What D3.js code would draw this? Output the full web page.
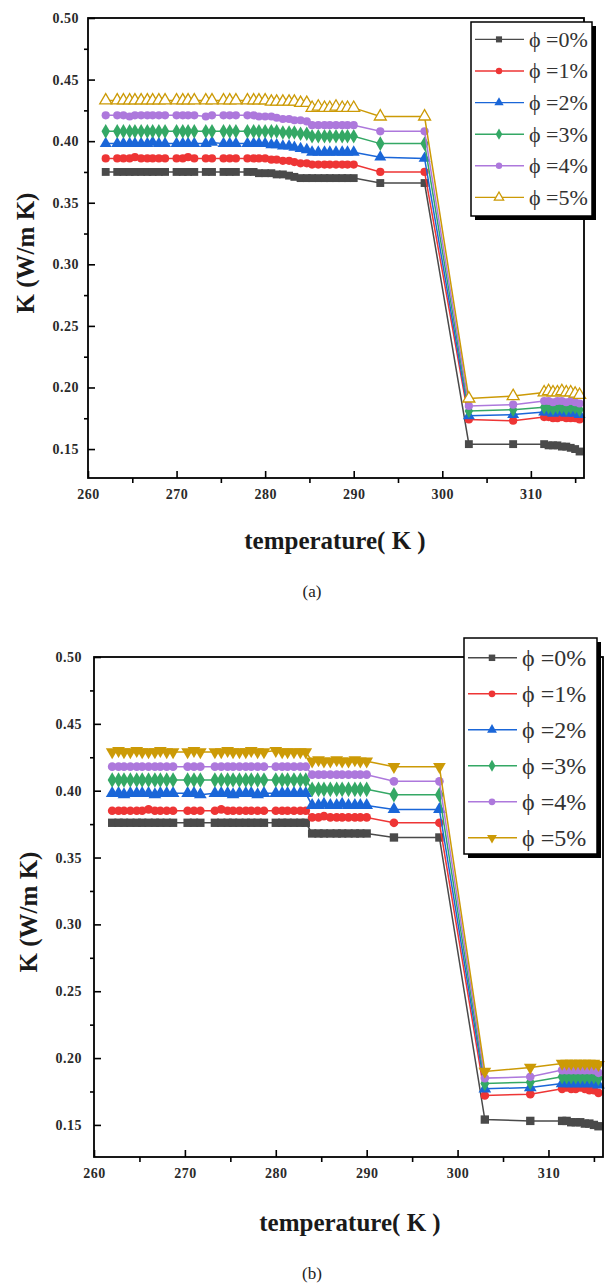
<!DOCTYPE html>
<html>
<head>
<meta charset="utf-8">
<script src="https://cdnjs.cloudflare.com/ajax/libs/d3/7.8.5/d3.min.js"></script>
<style>
  body { margin: 0; background: #fff; }
  svg, svg text { font-family: 'Times New Roman', 'Liberation Serif', 'DejaVu Serif', serif; }
</style>
</head>
<body>
<script>
// legend labels and axis ticks
const seriesNames = ['ϕ =0%', 'ϕ =1%', 'ϕ =2%', 'ϕ =3%', 'ϕ =4%', 'ϕ =5%'];
const xTicks = [260, 270, 280, 290, 300, 310];
const xMinor = [265, 275, 285, 295, 305, 315];
const yTicks = [0.15, 0.20, 0.25, 0.30, 0.35, 0.40, 0.45, 0.50];
const yMinor = [0.175, 0.225, 0.275, 0.325, 0.375, 0.425, 0.475];

// panel (a): temperature (K)
const tempA = [
  262, 263.3, 264, 264.7, 265.3, 266, 266.7, 267.3, 268, 268.7,
  270, 270.7, 271.3, 272, 273.3, 274, 275.3, 276, 276.7, 278,
  278.7, 279.3, 280, 280.7, 281.3, 282, 282.7, 283.3, 284, 284.7,
  285.3, 286, 286.7, 287.3, 288, 288.7, 289.3, 290, 293, 298,
  303, 308, 311.5, 312, 312.5, 313, 313.5, 314, 314.5, 315,
  315.5
];
// panel (a): K (W/m K) per concentration
const kA0 = [
  0.375, 0.375, 0.375, 0.375, 0.375, 0.375, 0.375, 0.375, 0.375, 0.375,
  0.375, 0.375, 0.375, 0.375, 0.375, 0.375, 0.375, 0.375, 0.375, 0.375,
  0.375, 0.374, 0.374, 0.374, 0.373, 0.373, 0.372, 0.371, 0.370, 0.370,
  0.370, 0.370, 0.370, 0.370, 0.370, 0.370, 0.370, 0.370, 0.366, 0.366,
  0.154, 0.154, 0.154, 0.153, 0.153, 0.153, 0.152, 0.152, 0.151, 0.150,
  0.148
];
const kA1 = [
  0.386, 0.386, 0.386, 0.386, 0.387, 0.386, 0.386, 0.386, 0.386, 0.386,
  0.386, 0.386, 0.387, 0.386, 0.386, 0.386, 0.386, 0.386, 0.386, 0.386,
  0.386, 0.386, 0.386, 0.385, 0.385, 0.384, 0.384, 0.383, 0.382, 0.382,
  0.381, 0.381, 0.381, 0.381, 0.381, 0.381, 0.381, 0.381, 0.375, 0.375,
  0.174, 0.173, 0.176, 0.176, 0.175, 0.175, 0.176, 0.175, 0.175, 0.175,
  0.174
];
const kA2 = [
  0.398, 0.398, 0.398, 0.398, 0.398, 0.398, 0.398, 0.399, 0.398, 0.398,
  0.398, 0.398, 0.398, 0.398, 0.398, 0.399, 0.398, 0.398, 0.398, 0.398,
  0.398, 0.398, 0.398, 0.397, 0.397, 0.396, 0.396, 0.395, 0.394, 0.393,
  0.391, 0.391, 0.391, 0.391, 0.391, 0.391, 0.391, 0.391, 0.387, 0.386,
  0.177, 0.178, 0.180, 0.180, 0.179, 0.180, 0.180, 0.179, 0.180, 0.179,
  0.178
];
const kA3 = [
  0.408, 0.408, 0.408, 0.408, 0.408, 0.408, 0.408, 0.408, 0.408, 0.408,
  0.408, 0.408, 0.408, 0.408, 0.408, 0.408, 0.408, 0.408, 0.408, 0.408,
  0.408, 0.408, 0.408, 0.408, 0.408, 0.407, 0.407, 0.407, 0.406, 0.406,
  0.404, 0.404, 0.404, 0.404, 0.404, 0.404, 0.404, 0.404, 0.398, 0.398,
  0.181, 0.182, 0.184, 0.184, 0.183, 0.184, 0.184, 0.183, 0.184, 0.184,
  0.182
];
const kA4 = [
  0.421, 0.421, 0.421, 0.420, 0.421, 0.421, 0.421, 0.421, 0.421, 0.421,
  0.421, 0.421, 0.421, 0.421, 0.420, 0.421, 0.421, 0.421, 0.421, 0.421,
  0.421, 0.420, 0.420, 0.420, 0.419, 0.418, 0.418, 0.417, 0.417, 0.416,
  0.413, 0.413, 0.413, 0.413, 0.413, 0.413, 0.413, 0.413, 0.408, 0.408,
  0.185, 0.186, 0.189, 0.189, 0.188, 0.189, 0.189, 0.188, 0.189, 0.188,
  0.187
];
const kA5 = [
  0.433, 0.433, 0.433, 0.433, 0.433, 0.433, 0.433, 0.433, 0.433, 0.433,
  0.433, 0.433, 0.433, 0.433, 0.433, 0.433, 0.433, 0.433, 0.433, 0.433,
  0.433, 0.433, 0.433, 0.432, 0.432, 0.432, 0.432, 0.432, 0.431, 0.431,
  0.427, 0.428, 0.427, 0.427, 0.428, 0.427, 0.427, 0.427, 0.420, 0.420,
  0.191, 0.193, 0.196, 0.197, 0.196, 0.196, 0.197, 0.196, 0.196, 0.195,
  0.194
];

// panel (b): temperature (K)
const tempB = [
  262, 262.7, 263.3, 264, 264.7, 265.3, 266, 266.7, 267.3, 268,
  268.7, 270.3, 271, 271.7, 273.3, 274, 274.7, 275.3, 276, 276.7,
  277.3, 278, 278.7, 280, 280.7, 281.3, 282, 282.7, 283.3, 284,
  284.7, 285.3, 286, 286.7, 287.3, 288, 288.7, 289.3, 290, 293,
  298, 303, 308, 311.5, 312, 312.5, 313, 313.5, 314, 314.5,
  315, 315.5
];
// panel (b): K (W/m K) per concentration
const kB0 = [
  0.376, 0.376, 0.376, 0.376, 0.376, 0.376, 0.376, 0.376, 0.376, 0.376,
  0.376, 0.376, 0.376, 0.376, 0.376, 0.376, 0.376, 0.376, 0.376, 0.376,
  0.376, 0.376, 0.376, 0.376, 0.376, 0.376, 0.376, 0.376, 0.376, 0.368,
  0.368, 0.368, 0.368, 0.368, 0.368, 0.368, 0.368, 0.368, 0.368, 0.365,
  0.365, 0.154, 0.153, 0.153, 0.153, 0.152, 0.152, 0.152, 0.151, 0.151,
  0.150, 0.149
];
const kB1 = [
  0.385, 0.385, 0.385, 0.385, 0.385, 0.385, 0.386, 0.385, 0.385, 0.385,
  0.385, 0.385, 0.385, 0.385, 0.385, 0.386, 0.385, 0.385, 0.385, 0.385,
  0.385, 0.385, 0.385, 0.385, 0.385, 0.385, 0.385, 0.385, 0.385, 0.380,
  0.380, 0.381, 0.380, 0.380, 0.380, 0.380, 0.380, 0.380, 0.380, 0.376,
  0.376, 0.172, 0.173, 0.177, 0.178, 0.177, 0.177, 0.178, 0.177, 0.176,
  0.176, 0.174
];
const kB2 = [
  0.398, 0.398, 0.397, 0.398, 0.398, 0.398, 0.398, 0.397, 0.398, 0.398,
  0.398, 0.398, 0.398, 0.397, 0.398, 0.398, 0.398, 0.397, 0.398, 0.398,
  0.398, 0.397, 0.398, 0.398, 0.398, 0.398, 0.398, 0.398, 0.398, 0.389,
  0.389, 0.390, 0.389, 0.389, 0.390, 0.389, 0.389, 0.389, 0.389, 0.386,
  0.386, 0.177, 0.178, 0.181, 0.181, 0.181, 0.181, 0.181, 0.181, 0.181,
  0.181, 0.180
];
const kB3 = [
  0.408, 0.408, 0.408, 0.408, 0.408, 0.408, 0.408, 0.408, 0.408, 0.408,
  0.408, 0.408, 0.408, 0.408, 0.408, 0.408, 0.408, 0.408, 0.408, 0.408,
  0.408, 0.408, 0.408, 0.408, 0.408, 0.408, 0.408, 0.408, 0.408, 0.401,
  0.401, 0.401, 0.401, 0.401, 0.401, 0.401, 0.401, 0.401, 0.401, 0.397,
  0.397, 0.181, 0.182, 0.186, 0.186, 0.186, 0.186, 0.186, 0.186, 0.186,
  0.186, 0.185
];
const kB4 = [
  0.418, 0.418, 0.418, 0.418, 0.418, 0.418, 0.418, 0.418, 0.418, 0.418,
  0.418, 0.418, 0.418, 0.418, 0.418, 0.418, 0.418, 0.418, 0.418, 0.418,
  0.418, 0.418, 0.418, 0.418, 0.418, 0.418, 0.418, 0.418, 0.418, 0.412,
  0.412, 0.412, 0.412, 0.412, 0.412, 0.412, 0.412, 0.412, 0.412, 0.407,
  0.407, 0.185, 0.186, 0.191, 0.191, 0.191, 0.191, 0.191, 0.191, 0.191,
  0.191, 0.189
];
const kB5 = [
  0.429, 0.430, 0.429, 0.429, 0.430, 0.429, 0.429, 0.429, 0.430, 0.429,
  0.429, 0.429, 0.430, 0.429, 0.429, 0.429, 0.430, 0.429, 0.429, 0.429,
  0.430, 0.429, 0.429, 0.430, 0.429, 0.429, 0.429, 0.429, 0.429, 0.422,
  0.423, 0.422, 0.422, 0.423, 0.422, 0.422, 0.423, 0.422, 0.422, 0.418,
  0.418, 0.190, 0.193, 0.196, 0.196, 0.196, 0.196, 0.196, 0.196, 0.196,
  0.196, 0.195
];

const colors = ['#4a4a4a', '#ee3535', '#1a66d8', '#34a865', '#ad78dc', '#cc9a06'];
const serif = "'Times New Roman', 'Liberation Serif', 'DejaVu Serif', serif";

const panels = [
  {
    temps: tempA, series: [kA0, kA1, kA2, kA3, kA4, kA5],
    markers: ['square', 'circle', 'triangle', 'diamond', 'circle', 'triangleOpen'],
    left: 88, right: 584, top: 18, bottom: 478, yMin: 0.1265,
    markerSize: 62, yLabelX: 28, xLabelX: 335, xLabelY: 549, capY: 597, caption: '(a)',
    legend: {x: 471, y: 22, w: 121, h: 194, row: 31.6, font: 22},
    yPad: 9
  },
  {
    temps: tempB, series: [kB0, kB1, kB2, kB3, kB4, kB5],
    markers: ['square', 'circle', 'triangle', 'diamond', 'circle', 'triangleDown'],
    left: 94, right: 603, top: 657, bottom: 1157, yMin: 0.126,
    markerSize: 70, yLabelX: 31, xLabelX: 350, xLabelY: 1231, capY: 1279, caption: '(b)',
    legend: {x: 464, y: 638, w: 133, h: 216, row: 36, font: 24},
    yPad: 12
  }
];

const svg = d3.select('body')
  .append('svg')
  .attr('width', 606)
  .attr('height', 1286);

function markerPath(kind, size){
  let type = d3.symbolCircle;
  if (kind === 'square') type = d3.symbolSquare;
  else if (kind === 'diamond') type = d3.symbolDiamond;
  else if (kind.startsWith('triangle')) type = d3.symbolTriangle;
  if (kind === 'circle') size = size * 0.85;
  return d3.symbol().type(type).size(size)();
}

function drawMarker(g, kind, color, size){
  g.append('path')
    .attr('d', markerPath(kind, size))
    .attr('transform', kind === 'triangleDown' ? 'rotate(180)' : null)
    .attr('fill', kind === 'triangleOpen' ? '#fff' : color)
    .attr('stroke', color)
    .attr('stroke-width', kind === 'triangleOpen' ? 1.3 : 0);
}

function drawPanel(p){
  const xScale = d3.scaleLinear().domain([260, 316]).range([p.left, p.right]);
  const yScale = d3.scaleLinear().domain([p.yMin, 0.50]).range([p.bottom, p.top]);

  const g = svg.append('g');

  // series lines + markers, 0% first so 5% sits on top
  const line = d3.line()
    .x(d => xScale(d[0]))
    .y(d => yScale(d[1]));

  p.series.forEach((vals, i) => {
    const pts = p.temps.map((t, j) => [t, vals[j]]);
    g.append('path')
      .attr('d', line(pts))
      .attr('fill', 'none')
      .attr('stroke', colors[i])
      .attr('stroke-width', 1.5);
    g.selectAll('.m' + i)
      .data(pts)
      .enter()
      .append('g')
      .attr('transform', d => 'translate(' + xScale(d[0]) + ',' + yScale(d[1]) + ')')
      .each(function(){ drawMarker(d3.select(this), p.markers[i], colors[i], p.markerSize); });
  });

  // frame
  g.append('rect')
    .attr('x', p.left).attr('y', p.top)
    .attr('width', p.right - p.left).attr('height', p.bottom - p.top)
    .attr('fill', 'none').attr('stroke', '#000').attr('stroke-width', 1.8);

  // x axis: major ticks inward, minor outward
  const xAxis = d3.axisBottom(xScale).tickValues(xTicks)
    .tickSizeInner(-7).tickSizeOuter(0).tickPadding(11).tickFormat(d3.format('d'));
  const xAx = g.append('g')
    .attr('transform', 'translate(0,' + p.bottom + ')')
    .call(xAxis);
  g.append('g')
    .attr('transform', 'translate(0,' + p.bottom + ')')
    .call(d3.axisBottom(xScale).tickValues(xMinor).tickSize(5).tickFormat(''));

  const yAxis = d3.axisLeft(yScale).tickValues(yTicks)
    .tickSizeInner(-7).tickSizeOuter(0).tickPadding(p.yPad).tickFormat(d3.format('.2f'));
  const yAx = g.append('g')
    .attr('transform', 'translate(' + p.left + ',0)')
    .call(yAxis);
  g.append('g')
    .attr('transform', 'translate(' + p.left + ',0)')
    .call(d3.axisLeft(yScale).tickValues(yMinor).tickSize(4).tickFormat(''));

  g.selectAll('.domain').remove();
  g.selectAll('.tick line').attr('stroke', '#000').attr('stroke-width', 1.6);
  [xAx, yAx].forEach(a => {
    a.attr('font-family', serif).attr('font-size', 14);
    a.selectAll('text')
      .attr('fill', '#2a2a2a')
      .attr('font-family', serif)
      .attr('font-weight', 'bold')
      .style('letter-spacing', '0.5px');
  });

  // axis titles
  g.append('text')
    .attr('transform', 'translate(' + p.yLabelX + ',' + ((p.top + p.bottom) / 2 + 5) + ') rotate(-90)')
    .attr('text-anchor', 'middle')
    .attr('dominant-baseline', 'middle')
    .attr('font-family', serif)
    .attr('font-weight', 'bold')
    .attr('font-size', 25)
    .attr('fill', '#1a1a1a')
    .text('K (W/m K)');

  g.append('text')
    .attr('x', p.xLabelX).attr('y', p.xLabelY)
    .attr('text-anchor', 'middle')
    .attr('font-family', serif)
    .attr('font-weight', 'bold')
    .attr('font-size', 25)
    .attr('fill', '#1a1a1a')
    .text('temperature( K )');

  g.append('text')
    .attr('x', 312).attr('y', p.capY)
    .attr('text-anchor', 'middle')
    .attr('font-family', serif)
    .attr('font-size', 17)
    .attr('fill', '#222')
    .text(p.caption);

  // legend box with drop shadow
  const L = p.legend;
  const leg = g.append('g').attr('transform', 'translate(' + L.x + ',' + L.y + ')');
  leg.append('rect').attr('x', 4).attr('y', 4).attr('width', L.w).attr('height', L.h).attr('fill', '#000');
  leg.append('rect').attr('width', L.w).attr('height', L.h)
    .attr('fill', '#fff').attr('stroke', '#000').attr('stroke-width', 1.5);

  const rows = leg.selectAll('.row')
    .data(seriesNames)
    .enter()
    .append('g')
    .attr('transform', (d, i) => 'translate(0,' + (L.row * 0.55 + i * L.row) + ')');
  rows.append('line')
    .attr('x1', 4).attr('x2', 53)
    .attr('stroke', (d, i) => colors[i]).attr('stroke-width', 1.4);
  rows.append('g')
    .attr('transform', 'translate(28,0)')
    .each(function(d, i){ drawMarker(d3.select(this), p.markers[i], colors[i], p.markerSize * 0.6); });
  rows.append('text')
    .attr('x', 58).attr('y', 0)
    .attr('dominant-baseline', 'central')
    .attr('font-family', serif)
    .attr('font-size', L.font)
    .attr('fill', '#333')
    .text(d => d);
}

panels.forEach(drawPanel);
</script>
</body>
</html>
